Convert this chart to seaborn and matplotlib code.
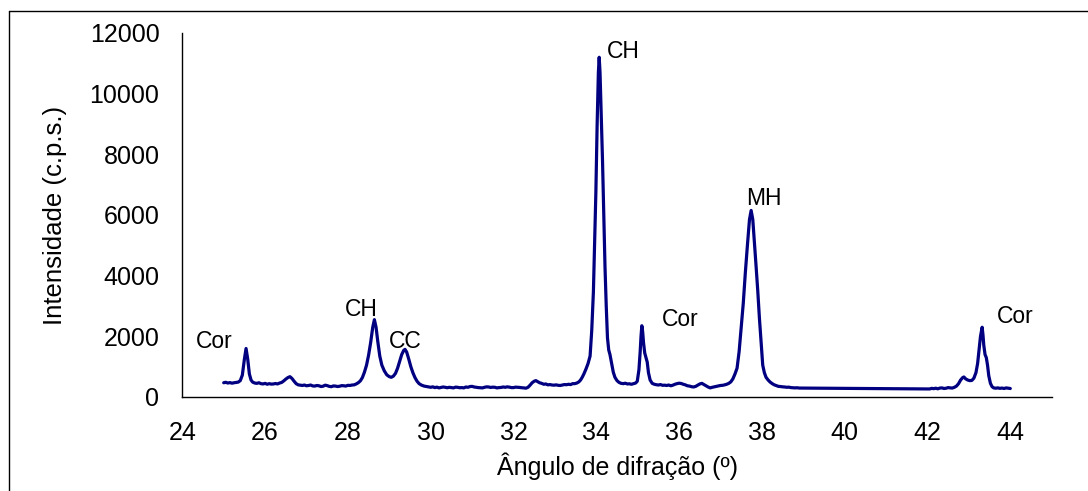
import matplotlib
matplotlib.use("Agg")
import matplotlib.pyplot as plt
from matplotlib.lines import Line2D
import pandas as pd
import seaborn as sns

# Difractograma: ângulo 2θ (graus)
two_theta = [
    25.00, 25.05, 25.10, 25.15, 25.20, 25.25, 25.30, 25.35, 25.40, 25.45,
    25.50, 25.54, 25.58, 25.62, 25.66, 25.70, 25.75, 25.80, 25.85, 25.90,
    25.95, 26.00, 26.05, 26.10, 26.15, 26.20, 26.25, 26.30, 26.35, 26.40,
    26.45, 26.50, 26.55, 26.60, 26.65, 26.70, 26.75, 26.80, 26.85, 26.90,
    26.95, 27.00, 27.05, 27.10, 27.15, 27.20, 27.25, 27.30, 27.35, 27.40,
    27.45, 27.50, 27.55, 27.60, 27.65, 27.70, 27.75, 27.80, 27.85, 27.90,
    27.95, 28.00, 28.05, 28.10, 28.15, 28.20, 28.25, 28.30, 28.35, 28.40,
    28.45, 28.50, 28.55, 28.60, 28.64, 28.68, 28.72, 28.77, 28.82, 28.88,
    28.94, 29.00, 29.05, 29.10, 29.15, 29.20, 29.25, 29.30, 29.35, 29.38,
    29.42, 29.47, 29.52, 29.57, 29.62, 29.67, 29.72, 29.78, 29.84, 29.90,
    29.95, 30.00, 30.05, 30.10, 30.15, 30.20, 30.25, 30.30, 30.35, 30.40,
    30.45, 30.50, 30.55, 30.60, 30.65, 30.70, 30.75, 30.80, 30.85, 30.90,
    30.95, 31.00, 31.05, 31.10, 31.15, 31.20, 31.25, 31.30, 31.35, 31.40,
    31.45, 31.50, 31.55, 31.60, 31.65, 31.70, 31.75, 31.80, 31.85, 31.90,
    31.95, 32.00, 32.05, 32.10, 32.15, 32.20, 32.25, 32.30, 32.35, 32.40,
    32.45, 32.50, 32.54, 32.58, 32.63, 32.68, 32.73, 32.78, 32.83, 32.88,
    32.93, 32.98, 33.03, 33.08, 33.13, 33.18, 33.23, 33.28, 33.33, 33.38,
    33.43, 33.48, 33.53, 33.58, 33.62, 33.66, 33.70, 33.75, 33.80, 33.85,
    33.89, 33.93, 33.96, 33.99, 34.02, 34.05, 34.07, 34.09, 34.12, 34.15,
    34.18, 34.21, 34.24, 34.27, 34.30, 34.33, 34.37, 34.41, 34.45, 34.50,
    34.55, 34.60, 34.65, 34.70, 34.75, 34.80, 34.85, 34.90, 34.95, 34.99,
    35.03, 35.06, 35.08, 35.10, 35.12, 35.14, 35.17, 35.20, 35.23, 35.26,
    35.30, 35.35, 35.40, 35.45, 35.50, 35.55, 35.60, 35.65, 35.70, 35.75,
    35.80, 35.85, 35.90, 35.95, 36.00, 36.05, 36.10, 36.15, 36.20, 36.25,
    36.30, 36.35, 36.40, 36.45, 36.50, 36.55, 36.60, 36.65, 36.70, 36.75,
    36.80, 36.85, 36.90, 36.95, 37.00, 37.05, 37.10, 37.15, 37.20, 37.25,
    37.30, 37.35, 37.40, 37.45, 37.50, 37.55, 37.60, 37.65, 37.70, 37.74,
    37.78, 37.82, 37.86, 37.90, 37.94, 37.98, 38.02, 38.06, 38.10, 38.15,
    38.20, 38.25, 38.30, 38.35, 38.40, 38.45, 38.50, 38.55, 38.60, 38.65,
    38.70, 38.75, 38.80, 38.85, 38.90, 42.05, 42.10, 42.15, 42.20, 42.25,
    42.30, 42.35, 42.40, 42.45, 42.50, 42.55, 42.60, 42.65, 42.70, 42.75,
    42.80, 42.85, 42.88, 42.92, 42.97, 43.02, 43.07, 43.12, 43.17, 43.21,
    43.25, 43.28, 43.32, 43.34, 43.36, 43.39, 43.42, 43.45, 43.48, 43.52,
    43.56, 43.60, 43.65, 43.70, 43.75, 43.80, 43.85, 43.90, 43.95, 44.00,
]

# Intensidade medida (c.p.s.)
intensity = [
    470, 485, 460, 475, 455, 470, 480, 490, 540, 720,
    1250, 1600, 1250, 760, 560, 490, 460, 450, 470, 440,
    430, 450, 420, 440, 425, 430, 445, 430, 460, 480,
    530, 590, 640, 670, 610, 520, 440, 400, 390, 380,
    395, 370, 380, 395, 365, 360, 380, 370, 345, 355,
    390, 375, 350, 340, 365, 360, 345, 355, 375, 370,
    360, 385, 380, 395, 400, 430, 470, 530, 640, 820,
    1050, 1380, 1800, 2300, 2550, 2300, 1850, 1350, 1050, 860,
    730, 670, 650, 690, 780, 950, 1180, 1400, 1540, 1570,
    1480, 1250, 1000, 800, 640, 520, 440, 390, 360, 345,
    330, 320, 335, 310, 325, 300, 315, 330, 320, 305,
    320, 310, 300, 325, 320, 305, 310, 300, 330, 320,
    345, 350, 330, 320, 310, 305, 300, 320, 335, 330,
    315, 325, 320, 300, 310, 315, 330, 320, 335, 325,
    310, 310, 325, 320, 315, 305, 300, 290, 320, 390,
    470, 520, 540, 510, 470, 450, 420, 430, 400, 410,
    395, 390, 400, 385, 380, 395, 410, 405, 420, 410,
    440, 440, 460, 500, 560, 650, 760, 920, 1100, 1350,
    2200, 3470, 5100, 6770, 8970, 10700, 11200, 10700, 9300, 7800,
    6000, 4300, 3000, 1950, 1550, 1400, 1100, 820, 650, 540,
    480, 450, 440, 455, 430, 435, 420, 440, 460, 520,
    900, 1500, 2000, 2350, 2150, 1800, 1450, 1300, 1150, 800,
    560, 450, 420, 405, 395, 410, 385, 390, 380, 395,
    370, 390, 420, 440, 455, 445, 420, 400, 370, 360,
    340, 330, 350, 390, 430, 450, 410, 370, 330, 300,
    320, 335, 350, 365, 380, 385, 400, 420, 450, 500,
    600, 760, 950, 1500, 2300, 3090, 4100, 5000, 5850, 6150,
    5850, 5100, 4300, 3500, 2600, 1800, 1050, 800, 650, 560,
    490, 440, 400, 375, 350, 345, 335, 330, 320, 325,
    310, 305, 300, 305, 295, 265, 285, 275, 290, 270,
    295, 300, 280, 290, 310, 300, 295, 320, 360, 440,
    560, 640, 660, 600, 560, 540, 545, 620, 800, 1100,
    1600, 2000, 2300, 2050, 1700, 1400, 1300, 1050, 700, 450,
    340, 300, 290, 300, 285, 295, 280, 300, 290, 280,
]

# Identificação das fases e posição dos rótulos (2θ, intensidade)
phase_labels = ["Cor", "CH", "CC", "CH", "Cor", "MH", "Cor"]
label_theta = [24.33, 27.93, 28.98, 34.25, 35.58, 37.63, 43.67]
label_int = [1625, 2680, 1625, 11170, 2340, 6330, 2430]

df = pd.DataFrame({"theta": two_theta, "intensidade": intensity})

sns.set_style("white")
plt.rcParams["font.family"] = ["Liberation Sans", "DejaVu Sans"]

fig = plt.figure(figsize=(10.88, 4.91), dpi=100)
ax = fig.add_axes([182.3 / 1088, 1 - 397 / 491, (1051.7 - 182.3) / 1088, 364 / 491])

sns.lineplot(data=df, x="theta", y="intensidade", ax=ax, color="#000080",
             linewidth=2.3, sort=False, estimator=None)

ax.set_xlim(24, 45)
ax.set_ylim(0, 12000)
ax.set_xticks(range(24, 45, 2))
ax.set_yticks(range(0, 12001, 2000))

for side in ("top", "right"):
    ax.spines[side].set_visible(False)
for side in ("left", "bottom"):
    ax.spines[side].set_color("black")
    ax.spines[side].set_linewidth(1.0)

ax.tick_params(axis="both", direction="out", length=5.5, width=1.0, color="black",
               labelsize=18, labelcolor="black")
ax.tick_params(axis="y", pad=11)
ax.tick_params(axis="x", pad=11.5)

ax.set_xlabel("Ângulo de difração (º)", fontsize=18, color="black", labelpad=6)
ax.set_ylabel("Intensidade (c.p.s.)", fontsize=18.5, color="black", labelpad=16)

for txt, tx, ty in zip(phase_labels, label_theta, label_int):
    ax.text(tx, ty, txt, fontsize=16.5, color="black", ha="left", va="baseline")

# Moldura da área do gráfico
fig.add_artist(Line2D([9 / 1088, 9 / 1088], [0, 1 - 11 / 491],
                      transform=fig.transFigure, color="black", linewidth=1.0))
fig.add_artist(Line2D([9 / 1088, 1], [1 - 11 / 491, 1 - 11 / 491],
                      transform=fig.transFigure, color="black", linewidth=1.0))

fig.savefig("out.png", dpi=100, facecolor="white")
